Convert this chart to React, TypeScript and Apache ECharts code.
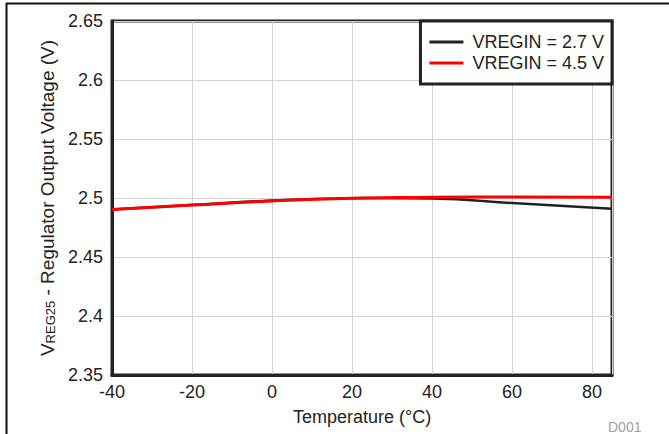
import React, { useEffect, useRef } from "react";
import * as echarts from "echarts";

const temps = [-40, -20, 0, 20, 25, 40, 60, 85];
const vregin27 = [2.4903, 2.494, 2.4978, 2.4998, 2.5, 2.4995, 2.4957, 2.4908];
const vregin45 = [2.4903, 2.494, 2.4975, 2.4998, 2.5, 2.5007, 2.5008, 2.5006];
const seriesNames = ["VREGIN = 2.7 V", "VREGIN = 4.5 V"];
const seriesColors = ["#222222", "#ff0000"];

const FONT = "'Liberation Sans', Arial, sans-serif";

export default function App() {
  const ref = useRef<HTMLDivElement>(null);
  useEffect(() => {
    if (!ref.current) return;
    const chart = echarts.init(ref.current, null, { renderer: "svg" });
    const mk = (vals: number[]) => temps.map((t, i) => [t, vals[i]]);
    chart.setOption({
      animation: false,
      backgroundColor: "#ffffff",
      textStyle: { fontFamily: FONT },
      grid: {
        left: 112,
        top: 21,
        right: 57,
        bottom: 59,
        show: true,
        borderColor: "#222",
        borderWidth: 3,
        containLabel: false,
      },
      legend: {
        right: 57,
        top: 21,
        orient: "vertical",
        align: "left",
        backgroundColor: "#fff",
        borderColor: "#222",
        borderWidth: 3,
        borderRadius: 0,
        padding: [12, 8, 12, 9],
        itemGap: 3,
        itemWidth: 34,
        itemHeight: 18,
        icon: "path://M0,0H34V3H0Z",
        textStyle: { fontSize: 18, color: "#222", fontFamily: FONT, padding: [0, 0, 0, 4] },
        data: seriesNames,
      },
      xAxis: {
        type: "value",
        min: -40,
        max: 85,
        interval: 20,
        name: "Temperature (°C)",
        nameLocation: "middle",
        nameGap: 33,
        nameTextStyle: { fontSize: 18, color: "#222", fontFamily: FONT },
        axisLine: { show: true, onZero: false, lineStyle: { color: "#222", width: 3 } },
        axisTick: { show: false },
        axisLabel: { fontSize: 18, color: "#222", margin: 8, showMaxLabel: false, fontFamily: FONT },
        splitLine: { show: true, lineStyle: { color: "#d4d4d4", width: 1 } },
      },
      yAxis: {
        type: "value",
        min: 2.35,
        max: 2.65,
        interval: 0.05,
        name: "{v|V}{sub|REG25}{v| - Regulator Output Voltage (V)}",
        nameLocation: "middle",
        nameGap: 55,
        nameTextStyle: {
          fontSize: 19,
          color: "#222",
          fontFamily: FONT,
          rich: {
            v: { fontSize: 19, color: "#222", fontFamily: FONT, verticalAlign: "bottom" },
            sub: { fontSize: 13, color: "#222", fontFamily: FONT, verticalAlign: "bottom" },
          },
        },
        axisLine: { show: true, onZero: false, lineStyle: { color: "#222", width: 3 } },
        axisTick: { show: false },
        axisLabel: {
          fontSize: 18,
          color: "#222",
          margin: 9,
          fontFamily: FONT,
          formatter: (v: number) => String(parseFloat(v.toFixed(2))),
        },
        splitLine: { show: true, lineStyle: { color: "#d4d4d4", width: 1 } },
      },
      series: [
        {
          name: seriesNames[0],
          type: "line",
          data: mk(vregin27),
          symbol: "none",
          smooth: true,
          lineStyle: { color: seriesColors[0], width: 2.5 },
          itemStyle: { color: seriesColors[0] },
          z: 2,
        },
        {
          name: seriesNames[1],
          type: "line",
          data: mk(vregin45),
          symbol: "none",
          smooth: true,
          lineStyle: { color: seriesColors[1], width: 3 },
          itemStyle: { color: seriesColors[1] },
          z: 3,
        },
      ],
      graphic: [
        {
          type: "line",
          shape: { x1: 6, y1: 3.5, x2: 669, y2: 3.5 },
          style: { stroke: "#111", lineWidth: 2 },
        },
        {
          type: "line",
          shape: { x1: 6.5, y1: 3, x2: 6.5, y2: 434 },
          style: { stroke: "#111", lineWidth: 2 },
        },
        {
          type: "text",
          x: 608,
          y: 420,
          style: { text: "D001", fontSize: 14, fill: "#a0a0a0", fontFamily: FONT },
        },
      ],
    });
    return () => chart.dispose();
  }, []);
  return <div ref={ref} style={{ width: 669, height: 434, position: "fixed", left: 0, top: 0 }} />;
}
